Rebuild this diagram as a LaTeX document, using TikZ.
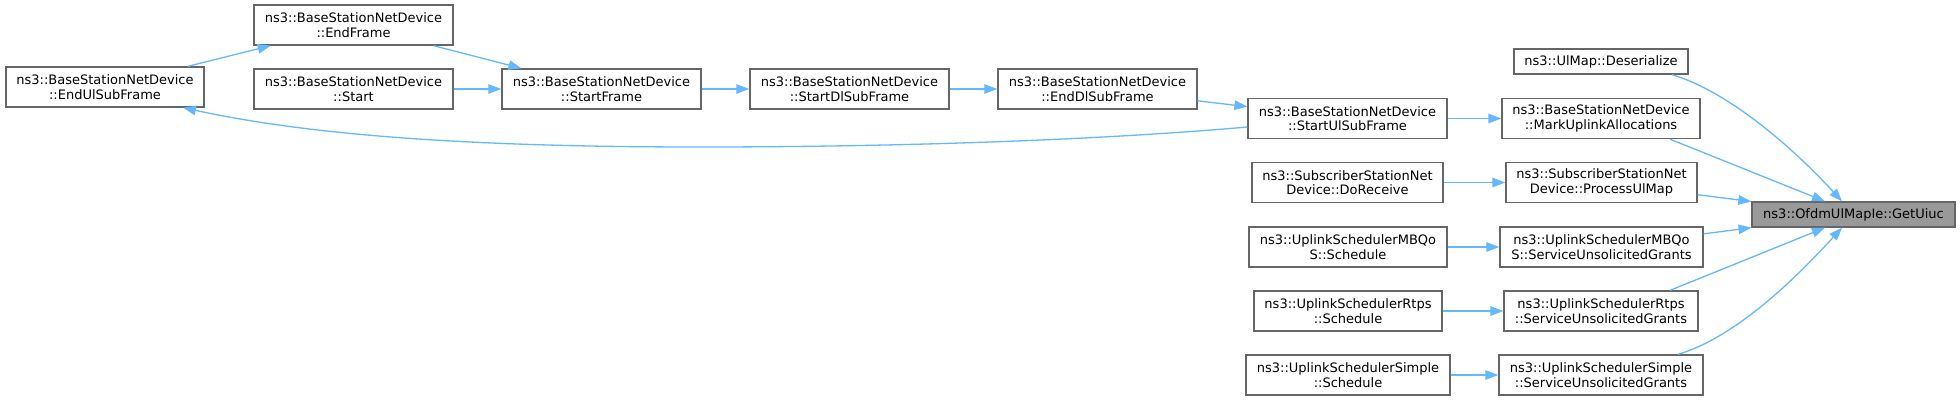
\documentclass[tikz,border=0pt]{standalone}
\usepackage{fontspec}
\setmainfont{DejaVu Sans}
\usetikzlibrary{arrows.meta,calc}
\definecolor{edgec}{HTML}{63B8FF}
\definecolor{bord}{HTML}{666666}
\definecolor{hl}{HTML}{999999}
\begin{document}
\begin{tikzpicture}[x=1pt,y=-1pt,
  box/.style={draw=bord,fill=white,line width=1.3pt,inner sep=0pt,minimum height=40pt,align=center,font=\fontsize{13}{14.5}\selectfont},
  box1/.style={box,minimum height=25pt},
  arr/.style={draw=edgec,line width=1.3pt,-{Triangle[length=13pt,width=9.5pt]}}]
\fill[white] (0,0) rectangle (1960,400);
\useasboundingbox (0,0) rectangle (1960,400);
% column 1
\node[box,minimum width=198pt] (eul) at (105,87) {ns3::BaseStationNetDevice\\::EndUlSubFrame};
% column 2
\node[box,minimum width=199pt] (ef) at (353.5,25) {ns3::BaseStationNetDevice\\::EndFrame};
\node[box,minimum width=199pt] (st) at (353.5,89) {ns3::BaseStationNetDevice\\::Start};
% column 3-5
\node[box,minimum width=199pt] (sf) at (601.5,89) {ns3::BaseStationNetDevice\\::StartFrame};
\node[box,minimum width=199pt] (sdl) at (849.5,89) {ns3::BaseStationNetDevice\\::StartDlSubFrame};
\node[box,minimum width=199pt] (edl) at (1097.5,89) {ns3::BaseStationNetDevice\\::EndDlSubFrame};
% column 6
\node[box,minimum width=199pt] (sul) at (1347.5,118.5) {ns3::BaseStationNetDevice\\::StartUlSubFrame};
\node[box,minimum width=191pt] (dr) at (1347.5,182.5) {ns3::SubscriberStationNet\\Device::DoReceive};
\node[box,minimum width=198pt] (mbs) at (1348,247) {ns3::UplinkSchedulerMBQo\\S::Schedule};
\node[box,minimum width=188pt] (rts) at (1348,311) {ns3::UplinkSchedulerRtps\\::Schedule};
\node[box,minimum width=204pt] (sis) at (1348,375) {ns3::UplinkSchedulerSimple\\::Schedule};
% column 7
\node[box1,minimum width=174pt] (des) at (1601,61.5) {ns3::UlMap::Deserialize};
\node[box,minimum width=198pt] (mua) at (1601,118.5) {ns3::BaseStationNetDevice\\::MarkUplinkAllocations};
\node[box,minimum width=191pt] (pum) at (1601.5,182.5) {ns3::SubscriberStationNet\\Device::ProcessUlMap};
\node[box,minimum width=203pt] (msug) at (1601.5,247) {ns3::UplinkSchedulerMBQo\\S::ServiceUnsolicitedGrants};
\node[box,minimum width=194pt] (rsug) at (1601,311) {ns3::UplinkSchedulerRtps\\::ServiceUnsolicitedGrants};
\node[box,minimum width=204pt] (ssug) at (1601,375) {ns3::UplinkSchedulerSimple\\::ServiceUnsolicitedGrants};
% target
\node[box1,minimum width=203pt,fill=hl] (gu) at (1853.5,214.5) {ns3::OfdmUlMapIe::GetUiuc};
% edges
\draw[arr] (eul) -- (ef);
\draw[arr] (ef) -- (sf);
\draw[arr] (st) -- (sf);
\draw[arr] (sf) -- (sdl);
\draw[arr] (sdl) -- (edl);
\draw[arr] (edl) -- (sul);
\coordinate (lowmid) at (700,147);
\draw[arr] ($(sul.west)+(0,8.5)$) .. controls (1100,140) and (900,147) .. (lowmid)
  .. controls (450,147) and (300,133) .. ($(eul.south)+(78,0)$);
\draw[arr] (sul) -- (mua);
\draw[arr] (dr) -- (pum);
\draw[arr] (mbs) -- (msug);
\draw[arr] (rts) -- (rsug);
\draw[arr] (sis) -- (ssug);
\draw[arr] ($(des.south)+(71,0)$) .. controls (1730,92) and (1795,150) .. ($(gu.north)+(-11.5,0)$);
\draw[arr] ($(mua.south)+(69,0)$) -- ($(gu.north)+(-28.5,0)$);
\draw[arr] (pum) -- (gu);
\draw[arr] (msug) -- (gu);
\draw[arr] ($(rsug.north)+(69,0)$) -- ($(gu.south)+(-28.5,0)$);
\draw[arr] ($(ssug.north)+(77,0)$) .. controls (1736,337) and (1795,279) .. ($(gu.south)+(-11.5,0)$);
\end{tikzpicture}
\end{document}
